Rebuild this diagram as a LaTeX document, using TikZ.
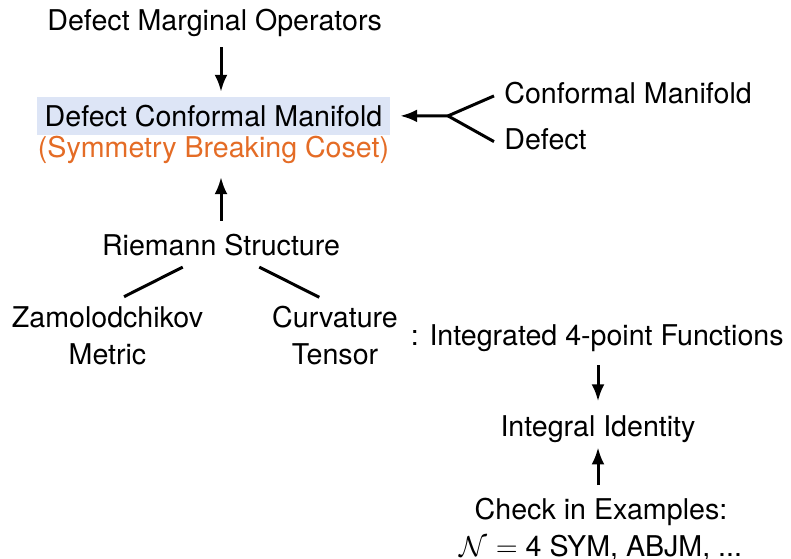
\documentclass[tikz,border=0pt]{standalone}
\usepackage{fontspec}
\setmainfont{TeX Gyre Heros}
\usetikzlibrary{arrows.meta,positioning}
\definecolor{cosetorange}{RGB}{228,108,38}
\definecolor{boxblue}{RGB}{221,229,246}
\begin{document}
\begin{tikzpicture}
            [
            x = 0.5pt, y = -0.5pt,
            font = \fontsize{14.3}{18.5}\selectfont,
            link/.style = {line width = 1.5pt},
            arrow/.style = {link, -{Latex[length = 8.5pt, width = 6.5pt]}},
            ]
            \tikzstyle{line node}=[inner sep=0pt,text height=10.4pt,text depth=3pt]
            \tikzstyle{pair node}=[inner sep=0pt,align=center,anchor=north]
            \tikzstyle{box node}=[fill=boxblue,inner xsep=3.75pt,inner ysep=4.2pt]
            \tikzstyle{coset node}=[line node,text=cosetorange]

            \useasboundingbox (0,0) rectangle (791,558);

            % left column
            \node[line node,anchor=base] (dmo) at (214.7,30) {Defect Marginal Operators};
            \node[box node,anchor=base] (dcm) at (213.5,126.3) {Defect Conformal Manifold};
            \node[coset node,anchor=base] (coset) at (213.5,157) {(Symmetry Breaking Coset)};
            \node[line node,anchor=base] (rie) at (221,255) {Riemann Structure};
            \node[pair node] (zam) at (107.5,306.4) {Zamolodchikov\\Metric};
            \node[pair node] (cur) at (335,306) {Curvature\\Tensor};

            % right column
            \node[line node,anchor=base west] (cm) at (504,103.3) {Conformal Manifold};
            \node[line node,anchor=base west] (defect) at (504,149) {Defect};
            \coordinate (fork) at (448,115.9);
            \node[line node,anchor=base] (int) at (597.3,345) {: Integrated 4-point Functions};
            \node[line node,anchor=base] (iid) at (598,436) {Integral Identity};
            \node[pair node] (chk) at (601,498) {Check in Examples:\\$\mathcal{N}=\mbox{4}$ SYM, ABJM, ...};

            \draw[arrow,shorten <=5.35pt,shorten >=2.15pt] (dmo.south -| rie.south) -- (dcm.north -| rie.south);
            \draw[arrow,shorten <=6.6pt,shorten >=6.85pt] (rie.north) -- (coset.south -| rie.north);
            \draw[arrow,shorten >=5pt] (fork) -- (dcm.east);
            \draw[link] (fork) -- ([xshift=-5pt]cm.west);
            \draw[link] (fork) -- ([xshift=-5pt]defect.west);
            \draw[link] ([xshift=-19.15pt,yshift=-2.85pt]rie.south) -- ([xshift=8.25pt,yshift=4.85pt]zam.north);
            \draw[link] ([xshift=19.15pt,yshift=-2.85pt]rie.south) -- ([xshift=-7.85pt,yshift=4.35pt]cur.north);
            \draw[arrow,shorten <=7pt,shorten >=6.75pt] (int.south -| iid.north) -- (iid.north);
            \draw[arrow,shorten <=6.5pt,shorten >=2.5pt] (chk.north -| iid.south) -- (iid.south);
\end{tikzpicture}
\end{document}
